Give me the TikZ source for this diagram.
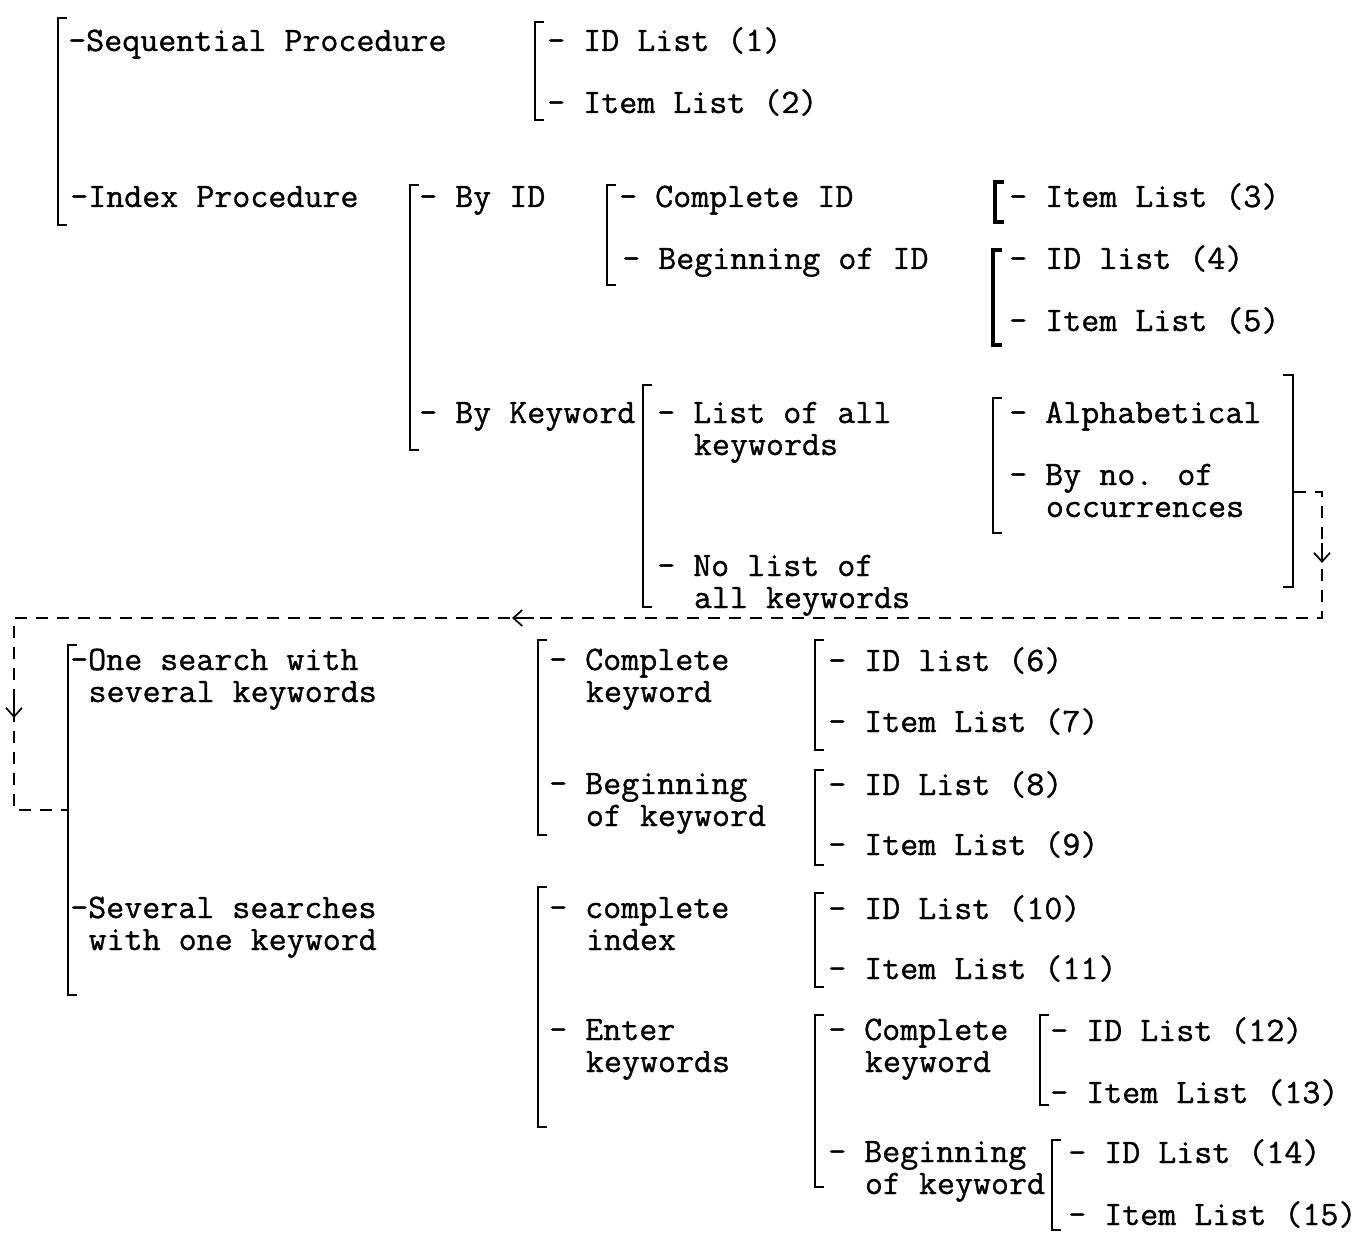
\documentclass[tikz,border=0pt]{standalone}
\usepackage{fontspec}
\newfontfamily\twfont[FakeBold=1,FakeStretch=1.02]{Latin Modern Mono}
\usetikzlibrary{arrows.meta}
\newcommand\twol[3][2]{\vtop{\hbox{#2}\hbox{\hspace*{#1\dimexpr 18.37pt\relax}#3}}}
\newcommand\brkt[4][]{\draw[brk,#1] (#2+9,#3) -- (#2,#3) -- (#2,#4) -- (#2+9,#4);}
\begin{document}
\begin{tikzpicture}[x=1pt,y=-1pt,
  txt/.style={anchor=base west, inner sep=0pt, font=\twfont\fontsize{34.3}{32}\selectfont},
  brk/.style={line width=2.2pt},
  heavy/.style={line width=3.6pt},
  flow/.style={line width=1.7pt, dash pattern=on 12pt off 9pt},
  tip/.style={line width=1.7pt, -{Straight Barb[length=9pt,width=16pt]}}]
\useasboundingbox (0,0) rectangle (1370,1233);

% ---- text nodes ----
\node[txt] (seq) at (68,51) {-Sequential Procedure};
\node[txt] (idx) at (70,207) {-Index Procedure};
\node[txt] (n1) at (547,51) {- ID List (1)};
\node[txt] (n2) at (547,113) {- Item List (2)};
\node[txt] (byid) at (419,207) {- By ID};
\node[txt] (bykw) at (419,423) {- By Keyword};
\node[txt] (cid) at (619,207) {- Complete ID};
\node[txt] (bid) at (622,269) {- Beginning of ID};
\node[txt] (n3) at (1009,207) {- Item List (3)};
\node[txt] (n4) at (1009,269) {- ID list (4)};
\node[txt] (n5) at (1009,331) {- Item List (5)};
\node[txt] (loak) at (657,423) {\twol{- List of all}{keywords}};
\node[txt] (nol) at (657,576) {\twol{- No list of}{all keywords}};
\node[txt] (alpha) at (1009,423) {- Alphabetical};
\node[txt] (byno) at (1009,485) {\twol{- By no. of}{occurrences}};
\node[txt] (one) at (70,670) {\twol[1]{-One search with}{several keywords}};
\node[txt] (sev) at (70,918) {\twol[1]{-Several searches}{with one keyword}};
\node[txt] (ck) at (549,670) {\twol{- Complete}{keyword}};
\node[txt] (bk) at (549,794) {\twol{- Beginning}{of keyword}};
\node[txt] (n6) at (828,671) {- ID list (6)};
\node[txt] (n7) at (828,732) {- Item List (7)};
\node[txt] (n8) at (828,795) {- ID List (8)};
\node[txt] (n9) at (828,855) {- Item List (9)};
\node[txt] (ci) at (549,918) {\twol{- complete}{index}};
\node[txt] (ek) at (549,1040) {\twol{- Enter}{keywords}};
\node[txt] (n10) at (828,919) {- ID List (10)};
\node[txt] (n11) at (828,979) {- Item List (11)};
\node[txt] (ck2) at (828,1040) {\twol{- Complete}{keyword}};
\node[txt] (bk2) at (828,1162) {\twol{- Beginning}{of keyword}};
\node[txt] (n12) at (1050,1041) {- ID List (12)};
\node[txt] (n13) at (1050,1103) {- Item List (13)};
\node[txt] (n14) at (1068,1163) {- ID List (14)};
\node[txt] (n15) at (1068,1225) {- Item List (15)};

% ---- brackets ----
\brkt{58}{18}{225}
\brkt{535}{22}{120}
\brkt{410}{185}{450}
\brkt{607}{185}{285}
\brkt[heavy]{995}{182}{222}
\brkt[heavy]{993}{250}{345}
\brkt{643}{385}{607}
\brkt{993}{398}{533}
\draw[brk] (1283,375) -- (1293,375) -- (1293,587) -- (1283,587);
\brkt{68}{645}{995}
\brkt{538}{640}{835}
\brkt{815}{640}{750}
\brkt{815}{770}{865}
\brkt{538}{887}{1127}
\brkt{815}{893}{987}
\brkt{815}{1015}{1187}
\brkt{1040}{1015}{1105}
\brkt{1052}{1140}{1230}

% ---- dashed connector ----
\coordinate (rbout) at (1294,492);
\coordinate (c1) at (1322,492);
\coordinate (c2) at (1322,618);
\coordinate (c3) at (14,618);
\coordinate (c4) at (14,810);
\coordinate (ibin) at (68,810);
\draw[flow] (rbout) -- (c1) -- (c2) -- (c3) -- (c4) -- (ibin);
\draw[tip] (1322,543) -- (1322,563);
\draw[tip] (534,618) -- (512,618);
\draw[tip] (14,698) -- (14,718);
\end{tikzpicture}
\end{document}
